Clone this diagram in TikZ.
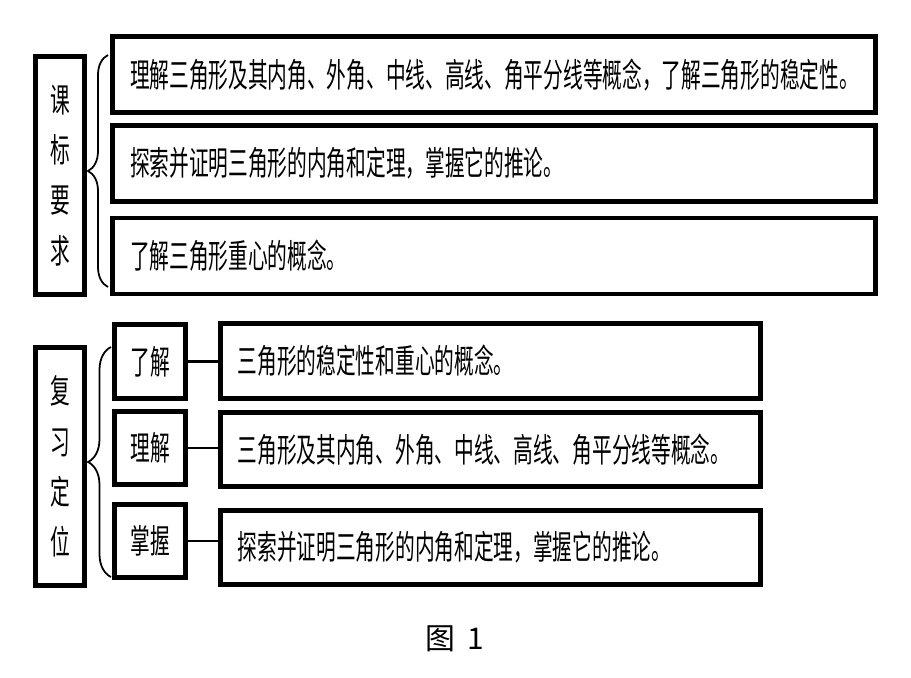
\documentclass[tikz,border=0pt]{standalone}
\usepackage{fontspec}
\newfontfamily\cjk[FakeStretch=0.59]{Noto Sans CJK SC}
\newfontfamily\capfont{Noto Sans CJK SC}
\usetikzlibrary{positioning, decorations.pathreplacing, calc}
\tikzset{
  boxline/.style={draw=black, line width=2.6pt, rectangle, inner sep=0pt},
  sidebox/.style={boxline, minimum width=0.99cm, minimum height=4.77cm, align=center,
    font=\cjk\fontsize{19pt}{28.6pt}\selectfont},
  longbox/.style={boxline, text width=14.56cm, inner xsep=0.355cm, minimum height=1.52cm,
    align=left, font=\cjk\fontsize{19pt}{22pt}\selectfont},
  levelbox/.style={boxline, minimum width=1.43cm, minimum height=1.47cm,
    font=\cjk\fontsize{19pt}{22pt}\selectfont},
  itembox/.style={boxline, text width=10.11cm, inner xsep=0.35cm, minimum height=1.49cm,
    align=left, font=\cjk\fontsize{19pt}{22pt}\selectfont},
  bracket/.style={line width=1pt, decorate, decoration={brace, amplitude=0.4cm}},
  link/.style={line width=1.2pt}
}
\begin{document}
\begin{tikzpicture}
\fill[white] (0,0) rectangle (18.22,-13.54);
\useasboundingbox (0,0) rectangle (18.22,-13.54);

% upper part
\node[sidebox] (req) at (1.20,-3.51) {课\\标\\要\\求};
\node[longbox] (t1) at (9.88,-1.49) {理解三角形及其内角、外角、中线、高线、角平分线等概念，了解三角形的稳定性。};
\node[longbox] (t2) at (9.88,-3.27) {探索并证明三角形的内角和定理，掌握它的推论。};
\node[longbox] (t3) at (9.88,-5.12) {了解三角形重心的概念。};
\coordinate (reqTop) at (2.16,-1.10);
\coordinate (reqBot) at (2.16,-5.74);
\draw[bracket] (reqBot) -- (reqTop);

% lower part
\node[sidebox] (pos) at (1.20,-9.33) {复\\习\\定\\位};
\node[levelbox] (b1) at (3.00,-7.23) {了解};
\node[levelbox] (b2) at (3.00,-8.96) {理解};
\node[levelbox] (b3) at (3.00,-10.82) {掌握};
\node[itembox] (r1) at (9.81,-7.22) {三角形的稳定性和重心的概念。};
\node[itembox] (r2) at (9.81,-8.99) {三角形及其内角、外角、中线、高线、角平分线等概念。};
\node[itembox] (r3) at (9.81,-10.95) {探索并证明三角形的内角和定理，掌握它的推论。};
\coordinate (posTop) at (2.22,-6.94);
\coordinate (posBot) at (2.22,-11.54);
\draw[bracket, decoration={amplitude=0.46cm}] (posBot) -- (posTop);
\draw[link] (b1.east) -- (b1.east -| r1.west);
\draw[link] (b2.east) -- (b2.east -| r2.west);
\draw[link] (b3.east) -- (b3.east -| r3.west);

\node[font=\capfont\fontsize{17pt}{20pt}\selectfont] (cap) at (9.10,-12.78) {图\hspace{0.25cm}1};
\end{tikzpicture}
\end{document}
